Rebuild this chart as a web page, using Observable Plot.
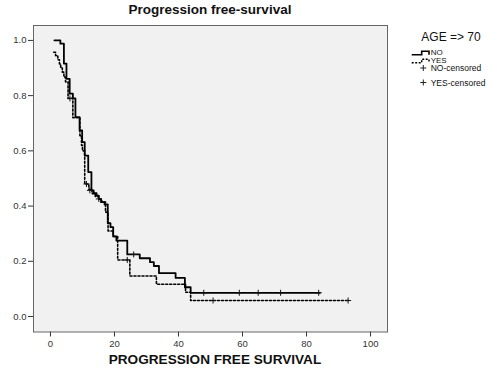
<!DOCTYPE html>
<html>
<head>
<meta charset="utf-8">
<script src="https://cdn.jsdelivr.net/npm/d3@7"></script>
<script src="https://cdn.jsdelivr.net/npm/@observablehq/plot@0.6"></script>
<style>
  html, body { margin: 0; padding: 0; background: #fff; }
  #wrap { position: relative; width: 500px; height: 372px; overflow: hidden; font-family: "Liberation Sans", Arial, sans-serif; }
  #title { height: 20px; width: 354px; margin-left: 33px; text-align: center; font-weight: bold; font-size: 13.5px; line-height: 20px; color: #111; box-sizing: border-box; position: relative; top: 0px; }
  #xlabel { height: 22px; width: 364px; margin-left: 33px; text-align: center; font-weight: bold; font-size: 13.6px; line-height: 22px; color: #111; position: relative; top: -1px; }
  #legend { position: absolute; left: 400px; top: 25px; }
</style>
</head>
<body>
<div id="wrap">
  <div id="title">Progression free-survival</div>
  <div id="chart"></div>
  <div id="xlabel">PROGRESSION FREE SURVIVAL</div>
  <svg id="legend" width="100" height="70" font-family="Liberation Sans, Arial, sans-serif">
    <text x="51" y="15.7" text-anchor="middle" font-size="12" fill="#111">AGE =&gt; 70</text>
    <path d="M11.7,29.8H21.7V26.3H29V29.8" fill="none" stroke="#000" stroke-width="1.6"/>
    <text x="30.7" y="29.8" font-size="8" fill="#111">NO</text>
    <path d="M11.7,37.8H21.7V34.3H29V37.8" fill="none" stroke="#000" stroke-width="1.5" stroke-dasharray="2,1.5"/>
    <text x="30.7" y="37.8" font-size="8" fill="#111">YES</text>
    <path d="M20.3,43H26.3M23.3,40V46" fill="none" stroke="#222" stroke-width="1"/>
    <text x="30.7" y="46.3" font-size="8.5" fill="#111">NO-censored</text>
    <path d="M20.3,57.5H26.3M23.3,54.5V60.5" fill="none" stroke="#222" stroke-width="1"/>
    <text x="30.7" y="61" font-size="8.5" fill="#111">YES-censored</text>
  </svg>
</div>
<script>
// Kaplan-Meier step points: time (months) and survival after that time
const noTime = [1.25, 3.1, 4.2, 5.0, 6.0, 7.0, 7.8, 9.1, 9.9, 10.7, 11.8, 12.8, 13.5, 14.4, 15.1, 15.8, 16.9, 17.9, 18.75, 19.6, 20.6, 24.0, 27.9, 31.1, 32.3, 33.9, 39.1, 42.0, 43.8, 84.2];
const noSurv = [1.0, 0.988, 0.916, 0.861, 0.807, 0.79, 0.722, 0.674, 0.632, 0.583, 0.523, 0.457, 0.447, 0.438, 0.426, 0.414, 0.406, 0.338, 0.324, 0.29, 0.275, 0.225, 0.211, 0.197, 0.183, 0.157, 0.14, 0.106, 0.086, 0.086];

const yesTime = [1.0, 1.6, 2.3, 2.8, 3.2, 3.7, 4.2, 4.7, 5.5, 7.0, 9.2, 9.7, 10.0, 10.7, 12.0, 13.0, 14.0, 15.0, 16.0, 17.2, 18.0, 19.6, 21.0, 24.8, 33.1, 42.2, 43.8, 93.2];
const yesSurv = [0.957, 0.945, 0.93, 0.915, 0.90, 0.885, 0.867, 0.85, 0.79, 0.72, 0.655, 0.62, 0.60, 0.48, 0.46, 0.445, 0.435, 0.425, 0.415, 0.378, 0.31, 0.29, 0.205, 0.147, 0.117, 0.088, 0.058, 0.058];

const noCensTime = [12.3, 15.1, 26.0, 47.9, 59.0, 64.9, 71.9, 83.8];
const noCensSurv = [0.457, 0.426, 0.225, 0.086, 0.086, 0.086, 0.086, 0.086];
const yesCensTime = [6.1, 11.25, 24.0, 50.8, 93.0];
const yesCensSurv = [0.79, 0.48, 0.205, 0.058, 0.058];

const xTicks = [0, 20, 40, 60, 80, 100];
const yTicks = [0, 0.2, 0.4, 0.6, 0.8, 1.0];

const noData = noTime.map((t, i) => ({t, s: noSurv[i]}));
const yesData = yesTime.map((t, i) => ({t, s: yesSurv[i]}));
const censData = noCensTime.map((t, i) => ({t, s: noCensSurv[i]}))
  .concat(yesCensTime.map((t, i) => ({t, s: yesCensSurv[i]})));

const cross = {
  draw(context, size) {
    const r = Math.sqrt(size / Math.PI);
    context.moveTo(-r, 0); context.lineTo(r, 0);
    context.moveTo(0, -r); context.lineTo(0, r);
  }
};

const chart = Plot.plot({
  width: 500,
  height: 330,
  marginTop: 5,
  marginBottom: 18.5,
  marginLeft: 33,
  marginRight: 113,
  x: {domain: [-5.3, 105.3]},
  y: {domain: [-0.056, 1.054]},
  style: {fontFamily: "Liberation Sans, Arial, sans-serif", background: "white", color: "#333", overflow: "visible"},
  marks: [
    Plot.frame({fill: "#f1f1f1", stroke: null}),
    Plot.axisX({ticks: xTicks, tickSize: 5, tickPadding: 3, fontSize: 9.5, label: null}),
    Plot.axisY({ticks: yTicks, tickFormat: d3.format(".1f"), tickSize: 5, tickPadding: 2, fontSize: 9.5, label: null}),
    Plot.line(yesData, {x: "t", y: "s", curve: "step-after", stroke: "#000", strokeWidth: 1.6, strokeDasharray: "2,2"}),
    Plot.line(noData, {x: "t", y: "s", curve: "step-after", stroke: "#000", strokeWidth: 1.8}),
    Plot.dot(censData, {x: "t", y: "s", symbol: cross, r: 3, fill: "none", stroke: "#111", strokeWidth: 1}),
    Plot.frame({stroke: "#666", strokeWidth: 1})
  ]
});
document.getElementById("chart").appendChild(chart);
</script>
</body>
</html>
